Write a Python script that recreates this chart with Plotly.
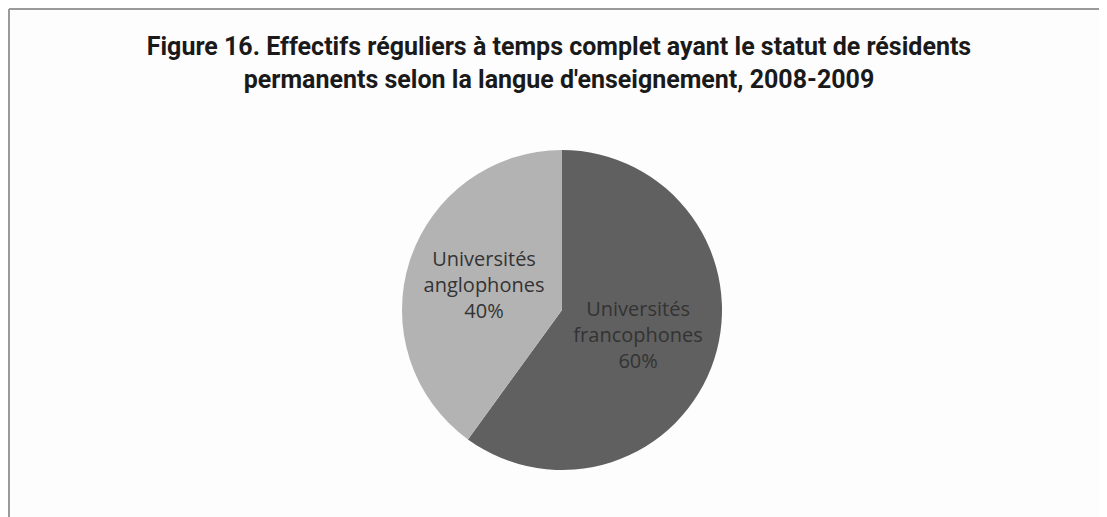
import plotly.graph_objects as go

# reading of the pie slices (percent)
labels = ["Universités<br>francophones", "Universités<br>anglophones"]
values = [60, 40]
colors = ["#606060", "#b3b3b3"]

title = ("Figure 16. Effectifs réguliers à temps complet ayant le statut de résidents<br>"
         "permanents selon la langue d'enseignement, 2008-2009")

W, H = 1107, 517
OFF = 8  # page body margin shifts everything by 8px

fig = go.Figure()
fig.add_trace(go.Pie(
    labels=labels,
    values=values,
    sort=False,
    direction="clockwise",
    rotation=0,
    marker=dict(colors=colors, line=dict(width=0)),
    textinfo="label+percent",
    textposition="inside",
    insidetextorientation="horizontal",
    textfont=dict(family="Open Sans", size=20, color="#333333"),
    showlegend=False,
    hoverinfo="label+percent",
    domain=dict(x=[(402 - OFF) / W, (722 - OFF) / W],
                y=[1 - (470 - OFF) / H, 1 - (150 - OFF) / H]),
))

# frame of the chart area (top and left edge visible)
fig.add_shape(type="line", xref="paper", yref="paper",
              x0=1 / W, x1=1, y0=1 - 1 / H, y1=1 - 1 / H,
              line=dict(color="#9a9a9a", width=2))
fig.add_shape(type="line", xref="paper", yref="paper",
              x0=1 / W, x1=1 / W, y0=0, y1=1 - 1 / H,
              line=dict(color="#9a9a9a", width=2))

fig.update_layout(
    title=dict(text=title, x=(559 - OFF) / W, xanchor="center",
               y=1 - (55 - OFF) / H, yanchor="middle",
               font=dict(family="Roboto", size=25,
                         color="#1a1a1a", weight="bold")),
    width=W, height=H,
    margin=dict(l=0, r=0, t=0, b=0),
    paper_bgcolor="#fdfdfd",
    plot_bgcolor="#fdfdfd",
)

fig.write_html("out.html")
